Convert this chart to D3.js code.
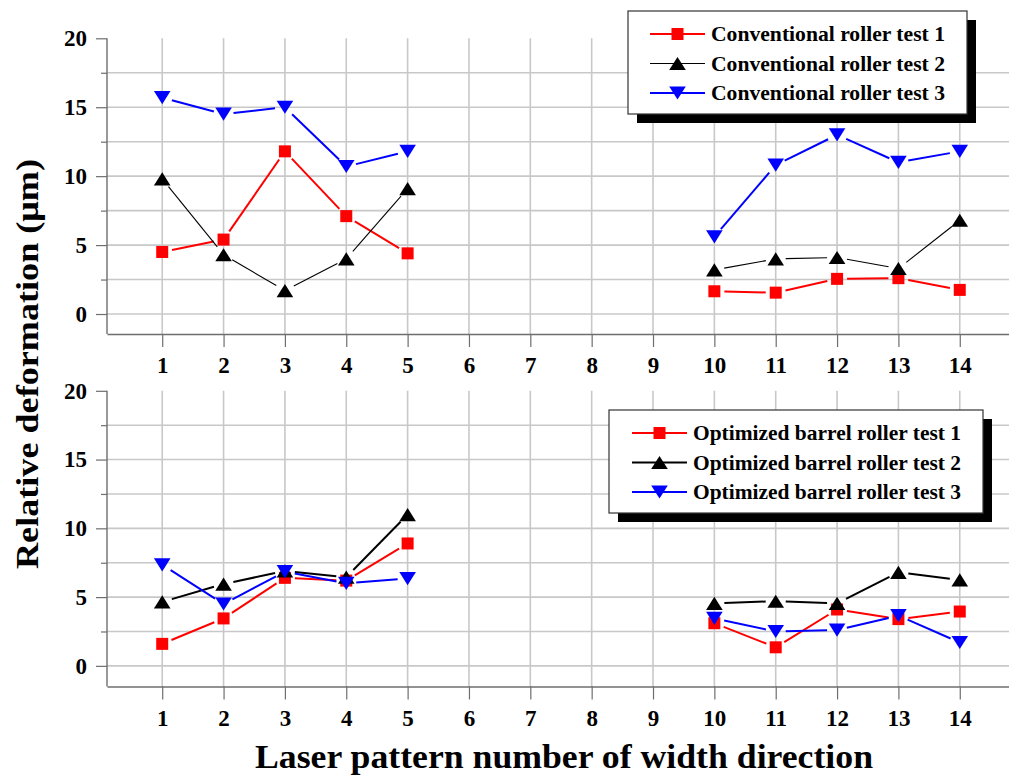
<!DOCTYPE html>
<html>
<head>
<meta charset="utf-8">
<script src="https://cdn.jsdelivr.net/npm/d3@7"></script>
<style>
  html, body { margin: 0; padding: 0; background: #fff; }
  svg { display: block; }
  text { font-family: "Liberation Serif", "Times New Roman", serif; font-weight: bold; fill: #000; }
</style>
</head>
<body>
<svg id="chart" width="1009" height="776"></svg>
<script>
// Pattern positions across the roller width
const patterns = [1, 2, 3, 4, 5, 10, 11, 12, 13, 14];
const xTicks = [1, 2, 3, 4, 5, 6, 7, 8, 9, 10, 11, 12, 13, 14];
const yMajor = [0, 5, 10, 15, 20];
const yMinor = [2.5, 7.5, 12.5, 17.5];
const yGrid = [0, 2.5, 5, 7.5, 10, 12.5, 15, 17.5];

// Relative deformation (µm), conventional roller
const conv1 = [4.5, 5.4, 11.8, 7.1, 4.4, 1.65, 1.55, 2.55, 2.6, 1.75];
const conv2 = [9.8, 4.3, 1.7, 4.0, 9.1, 3.2, 4.0, 4.1, 3.3, 6.8];
const conv3 = [15.7, 14.5, 15.0, 10.7, 11.8, 5.6, 10.8, 13.0, 11.0, 11.8];

// Relative deformation (µm), optimized barrel roller
const opt1 = [1.6, 3.45, 6.4, 6.2, 8.9, 3.1, 1.35, 4.1, 3.4, 3.95];
const opt2 = [4.65, 5.95, 6.9, 6.45, 11.0, 4.55, 4.7, 4.55, 6.8, 6.25];
const opt3 = [7.35, 4.5, 6.85, 6.0, 6.35, 3.45, 2.5, 2.6, 3.65, 1.7];

const convNames = ["Conventional roller test 1", "Conventional roller test 2", "Conventional roller test 3"];
const optNames = ["Optimized barrel roller test 1", "Optimized barrel roller test 2", "Optimized barrel roller test 3"];

const svg = d3.select("#chart");

const x = d3.scaleLinear().domain([0.1, 14.9]).range([107, 107 + 14.8 * 61.35]);

const panels = [
  {
    y: d3.scaleLinear().domain([-1.45, 20]).range([334, 38.3]),
    series: [
      { name: convNames[0], values: conv1, color: "#ff0000", shape: "square", lw: 2 },
      { name: convNames[1], values: conv2, color: "#000000", shape: "up", lw: 1.1 },
      { name: convNames[2], values: conv3, color: "#0000ff", shape: "down", lw: 2 }
    ],
    legend: { x: 628, y: 11, w: 339, h: 103, lineX0: 650, lineX1: 705, textX: 711, rows: [34, 63.5, 93], textLen: 234 }
  },
  {
    y: d3.scaleLinear().domain([-1.5, 20]).range([686.5, 390.8]),
    series: [
      { name: optNames[0], values: opt1, color: "#ff0000", shape: "square", lw: 2 },
      { name: optNames[1], values: opt2, color: "#000000", shape: "up", lw: 2 },
      { name: optNames[2], values: opt3, color: "#0000ff", shape: "down", lw: 2 }
    ],
    legend: { x: 609, y: 410, w: 374, h: 103, lineX0: 632, lineX1: 687, textX: 693, rows: [433, 462.5, 492], textLen: 268 }
  }
];

function marker(g, shape, cx, cy, color) {
  if (shape === "square") {
    g.append("rect").attr("x", cx - 6).attr("y", cy - 6).attr("width", 12).attr("height", 12).attr("fill", color);
  } else {
    const w = 8.3, h = 6.6;
    const pts = shape === "up"
      ? [[cx - w, cy + h], [cx + w, cy + h], [cx, cy - h]]
      : [[cx - w, cy - h], [cx + w, cy - h], [cx, cy + h]];
    g.append("path").attr("d", "M" + pts.map(p => p.join(",")).join("L") + "Z").attr("fill", color);
  }
}

panels.forEach(p => {
  const y = p.y;
  const top = y(20), bottom = y.range()[0];
  const g = svg.append("g");

  // horizontal grid
  g.selectAll(".hg").data(yGrid).enter().append("line")
    .attr("x1", x.range()[0]).attr("x2", 1009)
    .attr("y1", d => y(d)).attr("y2", d => y(d))
    .attr("stroke", "#c8c8c8").attr("stroke-width", 1.6);
  // vertical grid
  g.selectAll(".vg").data(xTicks).enter().append("line")
    .attr("x1", d => x(d)).attr("x2", d => x(d))
    .attr("y1", top).attr("y2", bottom)
    .attr("stroke", "#c8c8c8").attr("stroke-width", 1.6);

  // x axis
  const xa = g.append("g").attr("transform", `translate(0,${bottom})`)
    .call(d3.axisBottom(x).tickValues(xTicks).tickSize(13).tickPadding(10).tickSizeOuter(0));
  xa.select(".domain").attr("stroke", "#6e6e6e").attr("stroke-width", 1.4);
  xa.selectAll(".tick line").attr("stroke", "#6e6e6e").attr("stroke-width", 1.2);
  xa.selectAll("text").attr("font-size", 23).attr("font-family", null).attr("font-weight", "bold").attr("fill", "#000");

  // y axis (major with labels, minor without)
  const ya = g.append("g").attr("transform", `translate(${x.range()[0]},0)`)
    .call(d3.axisLeft(y).tickValues(yMajor).tickSize(11).tickPadding(9).tickSizeOuter(0));
  ya.select(".domain").attr("d", `M0,${top}V${bottom}`).attr("stroke", "#6e6e6e").attr("stroke-width", 1.4);
  ya.selectAll(".tick line").attr("stroke", "#6e6e6e").attr("stroke-width", 1.2);
  ya.selectAll("text").attr("font-size", 23).attr("font-family", null).attr("font-weight", "bold").attr("fill", "#000");
  const ym = g.append("g").attr("transform", `translate(${x.range()[0]},0)`)
    .call(d3.axisLeft(y).tickValues(yMinor).tickSize(6).tickFormat(""));
  ym.select(".domain").remove();
  ym.selectAll(".tick line").attr("stroke", "#6e6e6e").attr("stroke-width", 1.2);

  // series: broken lines with gaps around markers, then markers
  p.series.forEach(s => {
    const pts = patterns.map((px, i) => [x(px), y(s.values[i])]);
    const gap = 10;
    const sg = g.append("g");
    for (let i = 0; i < pts.length - 1; i++) {
      if (patterns[i + 1] - patterns[i] !== 1) continue;
      const [x0, y0] = pts[i], [x1, y1] = pts[i + 1];
      const len = Math.hypot(x1 - x0, y1 - y0);
      if (len <= 2 * gap) continue;
      const ux = (x1 - x0) / len, uy = (y1 - y0) / len;
      sg.append("line")
        .attr("x1", x0 + ux * gap).attr("y1", y0 + uy * gap)
        .attr("x2", x1 - ux * gap).attr("y2", y1 - uy * gap)
        .attr("stroke", s.color).attr("stroke-width", s.lw);
    }
    pts.forEach(([cx, cy]) => marker(sg, s.shape, cx, cy, s.color));
  });

  // legend with drop shadow
  const L = p.legend;
  const lg = svg.append("g");
  lg.append("rect").attr("x", L.x + 9).attr("y", L.y + 9).attr("width", L.w).attr("height", L.h).attr("fill", "#000");
  lg.append("rect").attr("x", L.x).attr("y", L.y).attr("width", L.w).attr("height", L.h)
    .attr("fill", "#fff").attr("stroke", "#333").attr("stroke-width", 1.2);
  p.series.forEach((s, i) => {
    const ry = L.rows[i];
    lg.append("line").attr("x1", L.lineX0).attr("x2", L.lineX1).attr("y1", ry).attr("y2", ry)
      .attr("stroke", s.color).attr("stroke-width", s.lw === 2 ? 1.8 : 1.1);
    marker(lg, s.shape, (L.lineX0 + L.lineX1) / 2, ry, s.color);
    lg.append("text").attr("x", L.textX).attr("y", ry + 7)
      .attr("font-size", 21).attr("textLength", L.textLen).attr("lengthAdjust", "spacingAndGlyphs")
      .text(s.name);
  });
});

// axis titles
svg.append("text")
  .attr("transform", "translate(38,364) rotate(-90)")
  .attr("text-anchor", "middle").attr("font-size", 31)
  .attr("textLength", 410).attr("lengthAdjust", "spacingAndGlyphs")
  .text("Relative deformation (μm)");

svg.append("text")
  .attr("x", 564).attr("y", 768)
  .attr("text-anchor", "middle").attr("font-size", 33)
  .attr("textLength", 618).attr("lengthAdjust", "spacingAndGlyphs")
  .text("Laser pattern number of width direction");
</script>
</body>
</html>
